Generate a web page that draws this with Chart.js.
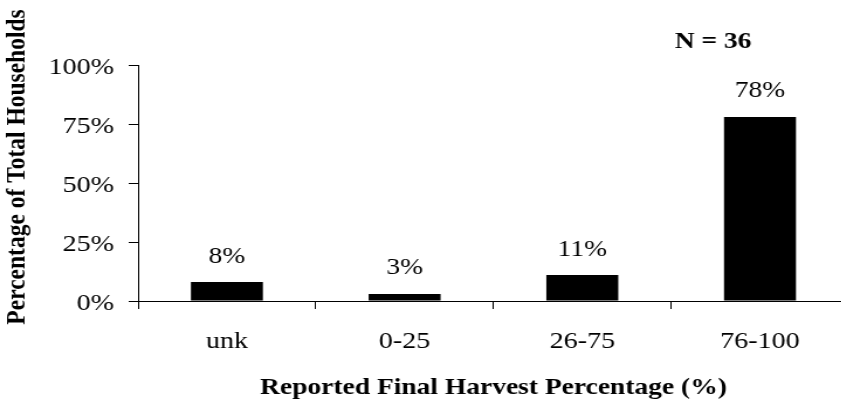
<!DOCTYPE html>
<html>
<head>
<meta charset="utf-8">
<script src="https://cdn.jsdelivr.net/npm/chart.js@4"></script>
<style>
  html, body { margin: 0; padding: 0; background: #fff; overflow: hidden; width: 841px; height: 409px; }
  /* the chart is laid out narrow and widened horizontally, like a stretched spreadsheet figure */
  #wrap { position: absolute; left: 0; top: 0; width: 730px; height: 409px; transform: scaleX(1.17); transform-origin: 0 0; }
  .probe { font-family: "Liberation Serif"; position: absolute; left: -999px; top: 0; }
</style>
</head>
<body>
<span class="probe">a</span><span class="probe" style="font-weight:bold">b</span>
<div id="wrap"><canvas id="c" width="730" height="409"></canvas></div>
<script>
const categories = ['unk', '0-25', '26-75', '76-100'];
const households = [8, 3, 11, 78];
const yTicks = [0, 25, 50, 75, 100];
const sampleLabel = 'N = 36';
const xTitle = 'Reported Final Harvest Percentage (%)';
const yTitle = 'Percentage of Total Households';

const FAMILY = '"Liberation Serif", "Times New Roman", Times, serif';
const SIZE = 23.5;
const TICK_SIZE = 24;

// percentage printed above each bar
const valueLabels = {
  id: 'valueLabels',
  afterDatasetsDraw(chart) {
    const ctx = chart.ctx;
    const meta = chart.getDatasetMeta(0);
    ctx.save();
    ctx.font = SIZE + 'px ' + FAMILY;
    ctx.fillStyle = '#000';
    ctx.textAlign = 'center';
    ctx.textBaseline = 'alphabetic';
    meta.data.forEach((bar, i) => {
      ctx.fillText(households[i] + '%', bar.x, bar.y - 19.5);
    });
    ctx.restore();
  }
};

// sample size note and the vertical axis caption
const captions = {
  id: 'captions',
  afterDraw(chart) {
    const ctx = chart.ctx;
    const area = chart.chartArea;
    ctx.save();
    ctx.font = 'bold ' + SIZE + 'px ' + FAMILY;
    ctx.fillStyle = '#000';
    ctx.textAlign = 'center';
    ctx.textBaseline = 'alphabetic';
    ctx.fillText(sampleLabel, area.left + 0.809 * (area.right - area.left), 48);
    ctx.translate(14.5, 167);
    ctx.rotate(-Math.PI / 2);
    ctx.textBaseline = 'middle';
    ctx.fillText(yTitle, 0, 0);
    ctx.restore();
  }
};

function draw() {
  new Chart(document.getElementById('c'), {
    type: 'bar',
    data: {
      labels: categories,
      datasets: [{
        data: households,
        backgroundColor: '#000',
        borderWidth: 0,
        barPercentage: 0.405,
        categoryPercentage: 1
      }]
    },
    options: {
      responsive: false,
      animation: false,
      devicePixelRatio: 1,
      layout: { padding: { top: 65, right: 4.5, bottom: 0, left: 0 } },
      plugins: { legend: { display: false }, tooltip: { enabled: false } },
      scales: {
        x: {
          offset: true,
          grid: { display: true, drawOnChartArea: false, drawTicks: true, tickLength: 8, color: '#000', lineWidth: 1, offset: true },
          border: { display: true, color: '#000', width: 1 },
          ticks: { color: '#000', padding: 18.5, font: { family: FAMILY, size: TICK_SIZE } },
          title: {
            display: true, text: xTitle, color: '#000',
            font: { family: FAMILY, size: SIZE, weight: 'bold' },
            padding: { top: 0, bottom: 6.9 }
          },
          afterFit(scale) { scale.height = 108; }
        },
        y: {
          min: 0,
          max: 100,
          afterBuildTicks(scale) { scale.ticks = yTicks.map(v => ({ value: v })); },
          grid: { display: true, drawOnChartArea: false, drawTicks: true, tickLength: 8, color: '#000', lineWidth: 1 },
          border: { display: true, color: '#000', width: 1 },
          ticks: {
            color: '#000', padding: 12.6, labelOffset: 2.5,
            font: { family: FAMILY, size: TICK_SIZE },
            callback: v => v + '%'
          },
          afterFit(scale) { scale.width = 118; }
        }
      }
    },
    plugins: [valueLabels, captions]
  });
}

Promise.all([
  document.fonts.load(SIZE + 'px "Liberation Serif"'),
  document.fonts.load('bold ' + SIZE + 'px "Liberation Serif"')
]).then(draw, draw);
</script>
</body>
</html>
